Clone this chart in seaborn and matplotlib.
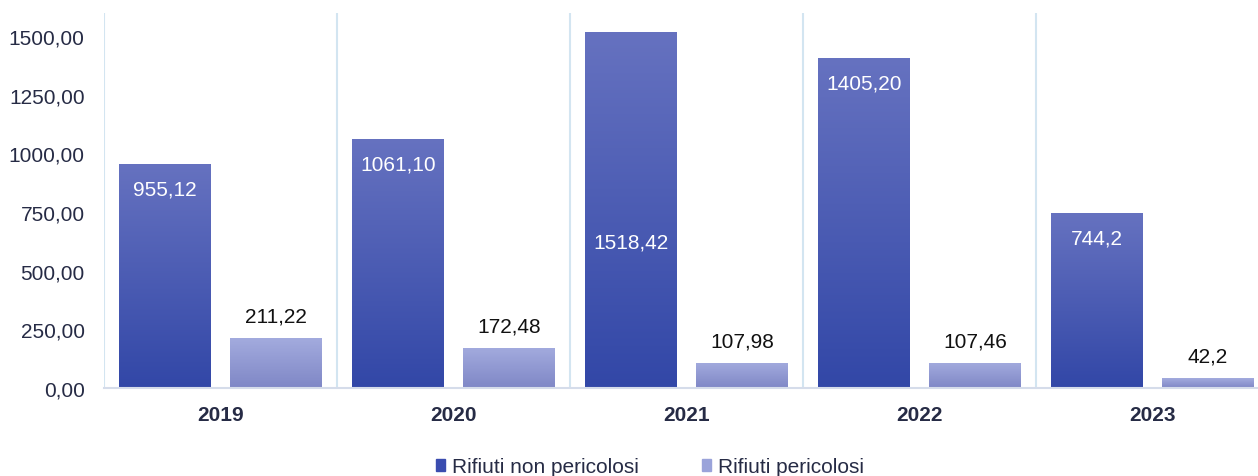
import numpy as np
import pandas as pd
import matplotlib
matplotlib.use("Agg")
import matplotlib.pyplot as plt
from matplotlib.colors import LinearSegmentedColormap
from matplotlib.patches import Patch
import seaborn as sns

# dati
anni = ["2019", "2020", "2021", "2022", "2023"]
non_pericolosi = [955.12, 1061.10, 1518.42, 1405.20, 744.2]
pericolosi = [211.22, 172.48, 107.98, 107.46, 42.2]
etichette_np = ["955,12", "1061,10", "1518,42", "1405,20", "744,2"]
etichette_p = ["211,22", "172,48", "107,98", "107,46", "42,2"]
serie = ["Rifiuti non pericolosi", "Rifiuti pericolosi"]
y_ticks = [0, 250, 500, 750, 1000, 1250, 1500]

df = pd.DataFrame({
    "anno": anni * 2,
    "valore": non_pericolosi + pericolosi,
    "tipo": [serie[0]] * len(anni) + [serie[1]] * len(anni),
})

sns.set_style("white")
plt.rcParams["font.family"] = ["Liberation Sans", "DejaVu Sans"]

testo = "#262b45"
sep_col = "#d3e5f1"

fig = plt.figure(figsize=(12.58, 4.77), dpi=100)
ax = fig.add_axes([104 / 1258, 88 / 477, 1165 / 1258, 375 / 477])

sns.barplot(data=df, x="anno", y="valore", hue="tipo", hue_order=serie,
            width=0.953, gap=0.18, ax=ax, legend=False)

# gradienti sulle barre
grad_dark = LinearSegmentedColormap.from_list("d", ["#3247a7", "#6672c0"])
grad_light = LinearSegmentedColormap.from_list("l", ["#7f87c6", "#a3abde"])
grad = np.linspace(0, 1, 256).reshape(-1, 1)
for cont, cmap in zip(ax.containers, [grad_dark, grad_light]):
    for bar in cont:
        x0, y0 = bar.get_x(), bar.get_y()
        w, h = bar.get_width(), bar.get_height()
        im = ax.imshow(grad, cmap=cmap, origin="lower", aspect="auto",
                       extent=[x0, x0 + w, y0, y0 + h], zorder=2)
        im.set_clip_path(bar)
        bar.set_facecolor("none")
        bar.set_edgecolor("none")
ax.set_xlim(-0.5, 4.5)
ax.set_ylim(0, 1598)

# etichette
off_np = [-25, -25, -210, -25, -25]
for bar, lab, off in zip(ax.containers[0], etichette_np, off_np):
    ax.annotate(lab, (bar.get_x() + bar.get_width() / 2, bar.get_height()),
                xytext=(0, off * 0.72), textcoords="offset points",
                ha="center", va="center", color="white", fontsize=15, zorder=5)
for bar, lab in zip(ax.containers[1], etichette_p):
    ax.annotate(lab, (bar.get_x() + bar.get_width() / 2, bar.get_height()),
                xytext=(0, 22 * 0.72), textcoords="offset points",
                ha="center", va="center", color="#111111", fontsize=15, zorder=5)

# separatori
for xs in np.arange(-0.5, 5, 1):
    ax.axvline(xs, color=sep_col, lw=1.5, zorder=1)

for s in ["top", "right", "left"]:
    ax.spines[s].set_visible(False)
ax.spines["bottom"].set_color("#d5dcea")
ax.spines["bottom"].set_linewidth(1.5)

ax.set_yticks(y_ticks)
ax.set_yticklabels([f"{v:.2f}".replace(".", ",") for v in y_ticks],
                   fontsize=15, color=testo)
ax.set_xticks(range(len(anni)))
ax.set_xticklabels(anni, fontsize=15, fontweight="bold", color=testo)
ax.tick_params(axis="y", length=0, pad=14)
ax.tick_params(axis="x", length=0, pad=12)
ax.set_xlabel("")
ax.set_ylabel("")

handles = [Patch(color="#3a4caf"), Patch(color="#9aa3da")]
fig.legend(handles, serie, loc="center", bbox_to_anchor=(650 / 1258, 9 / 477),
           ncol=2, frameon=False, fontsize=15, labelcolor=testo,
           handlelength=0.45, handleheight=0.45, handletextpad=0.35,
           columnspacing=3.0)

fig.savefig("out.png", dpi=100)
